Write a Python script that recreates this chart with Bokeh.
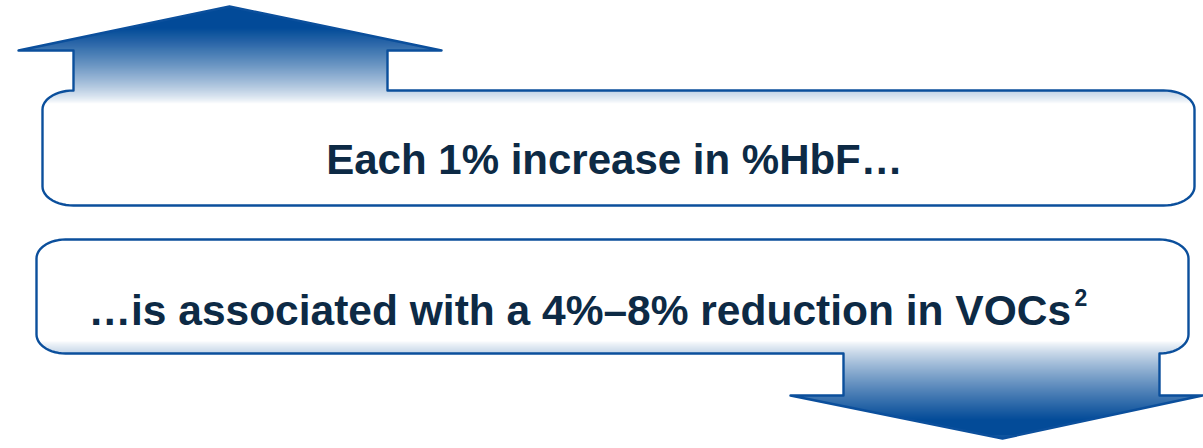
import numpy as np
from bokeh.plotting import figure
from bokeh.models import Range1d
from bokeh.core.properties import value
from bokeh.embed import file_html
from bokeh.resources import INLINE

# ---- content ----
top_text = "Each 1% increase in %HbF…"
bottom_text = "…is associated with a 4%–8% reduction in VOCs"
superscript = "2"

# ---- geometry (image pixel coordinates, y down) ----
top_arrow_tip = (229, 6)
top_head_y = 50
top_head_x = (18, 441)
top_shaft_x = (73, 387)
top_box = dict(left=42, right=1194, top=90, bottom=205, rx=31, ry=19)

bot_box = dict(left=36, right=1188, top=239, bottom=353, rx=29, ry=19)
bot_shaft_x = (843, 1159)
bot_head_y = 395
bot_head_x = (790, 1202)
bot_arrow_tip = (1002, 438)

DARK = (3, 75, 152)
OUTLINE = "#0b4f9c"
TEXT = "#0d2a45"


def arc(cx, cy, rx, ry, a0, a1, n=14):
    a = np.radians(np.linspace(a0, a1, n))
    return list(zip(cx + rx * np.cos(a), cy + ry * np.sin(a)))


def top_polygon():
    b = top_box
    pts = [top_arrow_tip, (top_head_x[1], top_head_y), (top_shaft_x[1], top_head_y),
           (top_shaft_x[1], b["top"])]
    pts += arc(b["right"] - b["rx"], b["top"] + b["ry"], b["rx"], b["ry"], -90, 0)
    pts += arc(b["right"] - b["rx"], b["bottom"] - b["ry"], b["rx"], b["ry"], 0, 90)
    pts += arc(b["left"] + b["rx"], b["bottom"] - b["ry"], b["rx"], b["ry"], 90, 180)
    pts += arc(b["left"] + b["rx"], b["top"] + b["ry"], b["rx"], b["ry"], 180, 270)
    pts += [(top_shaft_x[0], b["top"]), (top_shaft_x[0], top_head_y), (top_head_x[0], top_head_y)]
    return pts


def bottom_polygon():
    b = bot_box
    pts = []
    pts += arc(b["right"] - b["rx"], b["top"] + b["ry"], b["rx"], b["ry"], -90, 0)
    pts += arc(b["right"] - b["rx"], b["bottom"] - b["ry"], b["rx"], b["ry"], 0, 90)
    pts += [(bot_shaft_x[1], b["bottom"]), (bot_shaft_x[1], bot_head_y), (bot_head_x[1], bot_head_y),
            bot_arrow_tip, (bot_head_x[0], bot_head_y), (bot_shaft_x[0], bot_head_y),
            (bot_shaft_x[0], b["bottom"])]
    pts += arc(b["left"] + b["rx"], b["bottom"] - b["ry"], b["rx"], b["ry"], 90, 180)
    pts += arc(b["left"] + b["rx"], b["top"] + b["ry"], b["rx"], b["ry"], 180, 270)
    return pts


def scan(pts, y):
    xs = []
    n = len(pts)
    for i in range(n):
        x0, y0 = pts[i]
        x1, y1 = pts[(i + 1) % n]
        if (y0 <= y < y1) or (y1 <= y < y0):
            xs.append(x0 + (y - y0) * (x1 - x0) / (y1 - y0))
    xs.sort()
    return [(xs[i], xs[i + 1]) for i in range(0, len(xs) - 1, 2)]


def mix(t):
    t = max(0.0, min(1.0, t))
    r, g, b = [int(round(255 + (c - 255) * t)) for c in DARK]
    return "#%02x%02x%02x" % (r, g, b)


p = figure(width=1203, height=448, x_range=Range1d(0, 1203), y_range=Range1d(448, 0),
           output_backend="svg", toolbar_location=None, min_border=0)
p.axis.visible = False
p.grid.visible = False
p.outline_line_color = None
p.background_fill_color = "white"
p.border_fill_color = "white"

L, R, T, B, C = [], [], [], [], []
tp = top_polygon()
for y in np.arange(6, 106, 1.0):
    t = ((103 - (y + 0.5)) / 75.0)
    t = max(0.0, min(1.0, t)) ** 0.8
    for a, bb in scan(tp, y + 0.5):
        L.append(a); R.append(bb); T.append(y); B.append(y + 1.4); C.append(mix(t))
bp = bottom_polygon()
for y in np.arange(336, 439, 1.0):
    t = ((y + 0.5 - 341) / 79.0)
    t = max(0.0, min(1.0, t)) ** 0.8
    for a, bb in scan(bp, y + 0.5):
        L.append(a); R.append(bb); T.append(y - 0.4); B.append(y + 1); C.append(mix(t))

p.quad(left=L, right=R, top=T, bottom=B, fill_color=C, line_color=None)

for poly in (tp, bp):
    xs = [q[0] for q in poly]
    ys = [q[1] for q in poly]
    p.patch(xs, ys, fill_color=None, line_color=OUTLINE, line_width=2.4, line_join="round")

p.text(x=[614], y=[159], text=[top_text], text_font=value("Liberation Sans"),
       text_font_style="bold", text_font_size="42px", text_align="center",
       text_baseline="alphabetic", text_color=TEXT)
p.text(x=[88], y=[310], text=[bottom_text], text_font=value("Liberation Sans"),
       text_font_style="bold", text_font_size="42.5px", text_align="left",
       text_baseline="alphabetic", text_color=TEXT)
p.text(x=[1074], y=[297], text=[superscript], text_font=value("Liberation Sans"),
       text_font_style="bold", text_font_size="23px", text_align="left",
       text_baseline="alphabetic", text_color=TEXT)

open("out.html", "w").write(file_html(p, INLINE))
